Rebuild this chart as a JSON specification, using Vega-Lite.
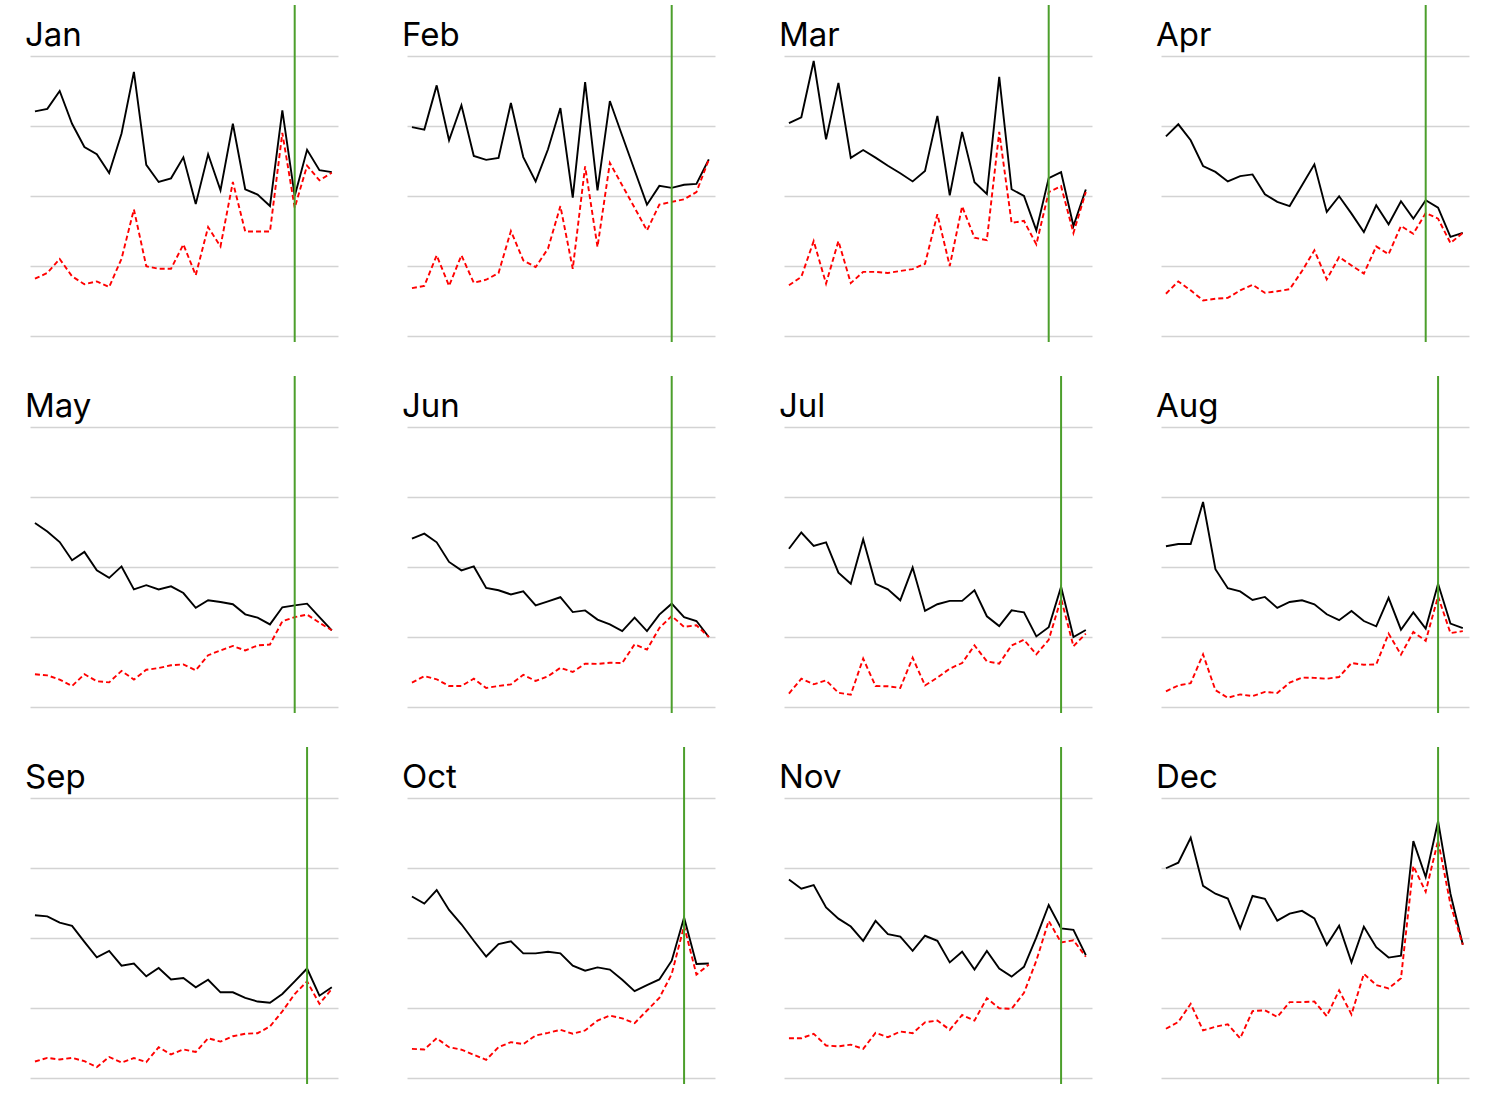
{
  "$schema": "https://vega.github.io/schema/vega-lite/v6.json",
  "background": "white",
  "padding": {"left": 25, "top": 4, "right": 5, "bottom": 5},
  "columns": 4,
  "spacing": {"row": 34, "column": 69},
  "bounds": "flush",
  "datasets": {
    "series": [
      {"m":"Jan","yr":2000,"b":80.2,"r":20.5},{"m":"Jan","yr":2001,"b":81.1,"r":22.5},{"m":"Jan","yr":2002,"b":87.5,"r":27.5},{"m":"Jan","yr":2003,"b":75.8,"r":21.3},{"m":"Jan","yr":2004,"b":67.5,"r":18.5},
      {"m":"Jan","yr":2005,"b":64.9,"r":19.5},{"m":"Jan","yr":2006,"b":58.2,"r":17.5},{"m":"Jan","yr":2007,"b":72.3,"r":27.6},{"m":"Jan","yr":2008,"b":94.3,"r":45.2},{"m":"Jan","yr":2009,"b":61.1,"r":24.9},
      {"m":"Jan","yr":2010,"b":55.0,"r":24.0},{"m":"Jan","yr":2011,"b":56.3,"r":24.0},{"m":"Jan","yr":2012,"b":63.8,"r":32.7},{"m":"Jan","yr":2013,"b":47.1,"r":21.7},{"m":"Jan","yr":2014,"b":64.9,"r":38.9},
      {"m":"Jan","yr":2015,"b":52.0,"r":32.0},{"m":"Jan","yr":2016,"b":75.8,"r":55.0},{"m":"Jan","yr":2017,"b":52.4,"r":37.3},{"m":"Jan","yr":2018,"b":50.5,"r":37.3},{"m":"Jan","yr":2019,"b":46.4,"r":37.3},
      {"m":"Jan","yr":2020,"b":80.6,"r":72.5},{"m":"Jan","yr":2021,"b":50.0,"r":45.8},{"m":"Jan","yr":2022,"b":66.5,"r":60.8},{"m":"Jan","yr":2023,"b":59.2,"r":55.6},{"m":"Jan","yr":2024,"b":58.5,"r":58.3},

      {"m":"Feb","yr":2000,"b":74.6,"r":17.1},{"m":"Feb","yr":2001,"b":73.7,"r":17.9},{"m":"Feb","yr":2002,"b":89.5,"r":28.8},{"m":"Feb","yr":2003,"b":69.9,"r":17.9},{"m":"Feb","yr":2004,"b":82.4,"r":28.8},
      {"m":"Feb","yr":2005,"b":64.3,"r":19.0},{"m":"Feb","yr":2006,"b":62.9,"r":20.1},{"m":"Feb","yr":2007,"b":63.6,"r":22.5},{"m":"Feb","yr":2008,"b":83.2,"r":37.5},{"m":"Feb","yr":2009,"b":63.9,"r":27.0},
      {"m":"Feb","yr":2010,"b":55.2,"r":24.6},{"m":"Feb","yr":2011,"b":66.7,"r":31.2},{"m":"Feb","yr":2012,"b":81.4,"r":46.4},{"m":"Feb","yr":2013,"b":49.4,"r":24.0},{"m":"Feb","yr":2014,"b":90.7,"r":60.6},
      {"m":"Feb","yr":2015,"b":52.0,"r":31.8},{"m":"Feb","yr":2016,"b":83.9,"r":61.8},{"m":"Feb","yr":2017,"b":71.5,"r":53.8},{"m":"Feb","yr":2018,"b":59.2,"r":45.8},{"m":"Feb","yr":2019,"b":46.9,"r":37.7},
      {"m":"Feb","yr":2020,"b":53.6,"r":46.9},{"m":"Feb","yr":2021,"b":52.9,"r":47.9},{"m":"Feb","yr":2022,"b":54.0,"r":48.8},{"m":"Feb","yr":2023,"b":54.3,"r":51.4},{"m":"Feb","yr":2024,"b":63.1,"r":63.0},

      {"m":"Mar","yr":2000,"b":76.0,"r":18.1},{"m":"Mar","yr":2001,"b":78.1,"r":21.1},{"m":"Mar","yr":2002,"b":98.2,"r":33.9},{"m":"Mar","yr":2003,"b":70.2,"r":18.7},{"m":"Mar","yr":2004,"b":90.4,"r":33.9},
      {"m":"Mar","yr":2005,"b":63.6,"r":18.9},{"m":"Mar","yr":2006,"b":66.4,"r":22.9},{"m":"Mar","yr":2007,"b":63.7,"r":22.9},{"m":"Mar","yr":2008,"b":60.8,"r":22.5},{"m":"Mar","yr":2009,"b":58.1,"r":23.2},
      {"m":"Mar","yr":2010,"b":55.2,"r":23.9},{"m":"Mar","yr":2011,"b":58.9,"r":25.8},{"m":"Mar","yr":2012,"b":78.6,"r":43.5},{"m":"Mar","yr":2013,"b":50.2,"r":25.0},{"m":"Mar","yr":2014,"b":72.9,"r":46.3},
      {"m":"Mar","yr":2015,"b":54.9,"r":35.1},{"m":"Mar","yr":2016,"b":50.7,"r":34.2},{"m":"Mar","yr":2017,"b":92.5,"r":72.9},{"m":"Mar","yr":2018,"b":52.4,"r":40.4},{"m":"Mar","yr":2019,"b":50.0,"r":41.1},
      {"m":"Mar","yr":2020,"b":37.7,"r":32.7},{"m":"Mar","yr":2021,"b":56.4,"r":51.4},{"m":"Mar","yr":2022,"b":58.5,"r":53.5},{"m":"Mar","yr":2023,"b":39.3,"r":36.8},{"m":"Mar","yr":2024,"b":52.3,"r":51.4},

      {"m":"Apr","yr":2000,"b":71.3,"r":15.1},{"m":"Apr","yr":2001,"b":75.6,"r":19.5},{"m":"Apr","yr":2002,"b":69.9,"r":16.3},{"m":"Apr","yr":2003,"b":60.7,"r":12.7},{"m":"Apr","yr":2004,"b":58.6,"r":13.3},
      {"m":"Apr","yr":2005,"b":55.2,"r":13.6},{"m":"Apr","yr":2006,"b":57.1,"r":16.3},{"m":"Apr","yr":2007,"b":57.7,"r":18.3},{"m":"Apr","yr":2008,"b":50.6,"r":15.4},{"m":"Apr","yr":2009,"b":47.9,"r":16.0},
      {"m":"Apr","yr":2010,"b":46.4,"r":16.7},{"m":"Apr","yr":2011,"b":53.8,"r":23.2},{"m":"Apr","yr":2012,"b":61.3,"r":30.6},{"m":"Apr","yr":2013,"b":44.3,"r":20.2},{"m":"Apr","yr":2014,"b":49.9,"r":28.2},
      {"m":"Apr","yr":2015,"b":43.7,"r":25.2},{"m":"Apr","yr":2016,"b":37.1,"r":22.3},{"m":"Apr","yr":2017,"b":46.7,"r":32.0},{"m":"Apr","yr":2018,"b":39.9,"r":29.2},{"m":"Apr","yr":2019,"b":48.1,"r":39.3},
      {"m":"Apr","yr":2020,"b":41.9,"r":36.5},{"m":"Apr","yr":2021,"b":48.5,"r":43.9},{"m":"Apr","yr":2022,"b":45.8,"r":41.9},{"m":"Apr","yr":2023,"b":35.4,"r":33.2},{"m":"Apr","yr":2024,"b":36.8,"r":36.8},

      {"m":"May","yr":2000,"b":65.7,"r":11.7},{"m":"May","yr":2001,"b":62.7,"r":11.3},{"m":"May","yr":2002,"b":58.9,"r":9.8},{"m":"May","yr":2003,"b":52.4,"r":7.5},{"m":"May","yr":2004,"b":55.4,"r":11.7},
      {"m":"May","yr":2005,"b":48.8,"r":9.2},{"m":"May","yr":2006,"b":46.1,"r":8.8},{"m":"May","yr":2007,"b":50.2,"r":12.9},{"m":"May","yr":2008,"b":42.0,"r":9.8},{"m":"May","yr":2009,"b":43.5,"r":13.3},
      {"m":"May","yr":2010,"b":42.0,"r":13.9},{"m":"May","yr":2011,"b":43.1,"r":14.9},{"m":"May","yr":2012,"b":40.7,"r":15.2},{"m":"May","yr":2013,"b":35.4,"r":13.1},{"m":"May","yr":2014,"b":38.1,"r":18.5},
      {"m":"May","yr":2015,"b":37.5,"r":20.2},{"m":"May","yr":2016,"b":36.7,"r":21.8},{"m":"May","yr":2017,"b":33.1,"r":20.2},{"m":"May","yr":2018,"b":31.9,"r":22.0},{"m":"May","yr":2019,"b":29.5,"r":22.3},
      {"m":"May","yr":2020,"b":35.6,"r":30.6},{"m":"May","yr":2021,"b":36.3,"r":32.1},{"m":"May","yr":2022,"b":36.9,"r":33.0},{"m":"May","yr":2023,"b":32.1,"r":30.1},{"m":"May","yr":2024,"b":27.4,"r":27.4},

      {"m":"Jun","yr":2000,"b":60.1,"r":8.7},{"m":"Jun","yr":2001,"b":61.9,"r":11.0},{"m":"Jun","yr":2002,"b":58.8,"r":9.9},{"m":"Jun","yr":2003,"b":51.8,"r":7.5},{"m":"Jun","yr":2004,"b":48.8,"r":7.5},
      {"m":"Jun","yr":2005,"b":50.2,"r":10.1},{"m":"Jun","yr":2006,"b":42.5,"r":6.8},{"m":"Jun","yr":2007,"b":41.7,"r":7.5},{"m":"Jun","yr":2008,"b":40.2,"r":8.1},{"m":"Jun","yr":2009,"b":41.3,"r":11.5},
      {"m":"Jun","yr":2010,"b":36.3,"r":9.3},{"m":"Jun","yr":2011,"b":37.7,"r":11.0},{"m":"Jun","yr":2012,"b":39.2,"r":14.0},{"m":"Jun","yr":2013,"b":33.9,"r":12.5},{"m":"Jun","yr":2014,"b":34.5,"r":15.5},
      {"m":"Jun","yr":2015,"b":31.2,"r":15.4},{"m":"Jun","yr":2016,"b":29.5,"r":15.8},{"m":"Jun","yr":2017,"b":27.1,"r":15.7},{"m":"Jun","yr":2018,"b":31.9,"r":22.4},{"m":"Jun","yr":2019,"b":27.1,"r":20.5},
      {"m":"Jun","yr":2020,"b":33.0,"r":28.2},{"m":"Jun","yr":2021,"b":36.9,"r":32.5},{"m":"Jun","yr":2022,"b":32.1,"r":28.6},{"m":"Jun","yr":2023,"b":30.7,"r":29.2},{"m":"Jun","yr":2024,"b":25.0,"r":25.0},

      {"m":"Jul","yr":2000,"b":56.5,"r":4.8},{"m":"Jul","yr":2001,"b":62.3,"r":10.1},{"m":"Jul","yr":2002,"b":57.5,"r":8.1},{"m":"Jul","yr":2003,"b":58.8,"r":9.5},{"m":"Jul","yr":2004,"b":48.0,"r":5.1},
      {"m":"Jul","yr":2005,"b":44.0,"r":4.4},{"m":"Jul","yr":2006,"b":59.9,"r":17.3},{"m":"Jul","yr":2007,"b":44.0,"r":7.5},{"m":"Jul","yr":2008,"b":42.0,"r":7.4},{"m":"Jul","yr":2009,"b":38.1,"r":6.8},
      {"m":"Jul","yr":2010,"b":49.8,"r":17.6},{"m":"Jul","yr":2011,"b":34.3,"r":7.7},{"m":"Jul","yr":2012,"b":36.7,"r":10.5},{"m":"Jul","yr":2013,"b":37.9,"r":13.7},{"m":"Jul","yr":2014,"b":37.9,"r":15.7},
      {"m":"Jul","yr":2015,"b":41.7,"r":22.0},{"m":"Jul","yr":2016,"b":32.4,"r":16.3},{"m":"Jul","yr":2017,"b":28.9,"r":15.5},{"m":"Jul","yr":2018,"b":34.5,"r":22.0},{"m":"Jul","yr":2019,"b":33.8,"r":24.0},
      {"m":"Jul","yr":2020,"b":25.2,"r":18.8},{"m":"Jul","yr":2021,"b":28.5,"r":24.0},{"m":"Jul","yr":2022,"b":42.9,"r":38.7},{"m":"Jul","yr":2023,"b":25.0,"r":21.7},{"m":"Jul","yr":2024,"b":27.5,"r":26.2},

      {"m":"Aug","yr":2000,"b":57.4,"r":5.6},{"m":"Aug","yr":2001,"b":58.2,"r":7.7},{"m":"Aug","yr":2002,"b":58.2,"r":8.5},{"m":"Aug","yr":2003,"b":73.2,"r":18.8},{"m":"Aug","yr":2004,"b":49.2,"r":6.0},
      {"m":"Aug","yr":2005,"b":42.4,"r":3.3},{"m":"Aug","yr":2006,"b":41.3,"r":4.5},{"m":"Aug","yr":2007,"b":38.2,"r":3.9},{"m":"Aug","yr":2008,"b":39.3,"r":5.4},{"m":"Aug","yr":2009,"b":35.4,"r":5.0},
      {"m":"Aug","yr":2010,"b":37.5,"r":8.7},{"m":"Aug","yr":2011,"b":38.1,"r":10.5},{"m":"Aug","yr":2012,"b":36.7,"r":10.4},{"m":"Aug","yr":2013,"b":33.1,"r":10.1},{"m":"Aug","yr":2014,"b":31.0,"r":10.7},
      {"m":"Aug","yr":2015,"b":34.3,"r":15.7},{"m":"Aug","yr":2016,"b":30.7,"r":15.1},{"m":"Aug","yr":2017,"b":28.8,"r":15.2},{"m":"Aug","yr":2018,"b":39.0,"r":26.2},{"m":"Aug","yr":2019,"b":27.6,"r":18.7},
      {"m":"Aug","yr":2020,"b":33.8,"r":26.8},{"m":"Aug","yr":2021,"b":28.0,"r":23.6},{"m":"Aug","yr":2022,"b":44.0,"r":39.5},{"m":"Aug","yr":2023,"b":29.8,"r":26.4},{"m":"Aug","yr":2024,"b":28.2,"r":27.1},

      {"m":"Sep","yr":2000,"b":58.1,"r":5.9},{"m":"Sep","yr":2001,"b":57.7,"r":7.2},{"m":"Sep","yr":2002,"b":55.5,"r":6.6},{"m":"Sep","yr":2003,"b":54.3,"r":7.2},{"m":"Sep","yr":2004,"b":48.6,"r":6.0},
      {"m":"Sep","yr":2005,"b":43.1,"r":3.9},{"m":"Sep","yr":2006,"b":45.4,"r":7.5},{"m":"Sep","yr":2007,"b":40.1,"r":5.5},{"m":"Sep","yr":2008,"b":40.9,"r":7.1},{"m":"Sep","yr":2009,"b":36.3,"r":5.7},
      {"m":"Sep","yr":2010,"b":39.3,"r":11.0},{"m":"Sep","yr":2011,"b":35.2,"r":8.4},{"m":"Sep","yr":2012,"b":35.7,"r":10.2},{"m":"Sep","yr":2013,"b":32.4,"r":9.3},{"m":"Sep","yr":2014,"b":35.1,"r":14.2},
      {"m":"Sep","yr":2015,"b":30.6,"r":13.0},{"m":"Sep","yr":2016,"b":30.6,"r":14.9},{"m":"Sep","yr":2017,"b":28.6,"r":15.8},{"m":"Sep","yr":2018,"b":27.3,"r":16.0},{"m":"Sep","yr":2019,"b":26.9,"r":18.4},
      {"m":"Sep","yr":2020,"b":30.0,"r":23.8},{"m":"Sep","yr":2021,"b":34.5,"r":30.0},{"m":"Sep","yr":2022,"b":39.1,"r":34.5},{"m":"Sep","yr":2023,"b":29.4,"r":26.5},{"m":"Sep","yr":2024,"b":32.4,"r":31.8},

      {"m":"Oct","yr":2000,"b":64.8,"r":10.4},{"m":"Oct","yr":2001,"b":62.3,"r":10.2},{"m":"Oct","yr":2002,"b":67.1,"r":14.2},{"m":"Oct","yr":2003,"b":60.0,"r":11.0},{"m":"Oct","yr":2004,"b":54.9,"r":10.1},
      {"m":"Oct","yr":2005,"b":49.0,"r":8.3},{"m":"Oct","yr":2006,"b":43.4,"r":6.5},{"m":"Oct","yr":2007,"b":47.8,"r":11.0},{"m":"Oct","yr":2008,"b":48.8,"r":12.8},{"m":"Oct","yr":2009,"b":44.5,"r":12.1},
      {"m":"Oct","yr":2010,"b":44.5,"r":15.2},{"m":"Oct","yr":2011,"b":45.1,"r":16.1},{"m":"Oct","yr":2012,"b":44.5,"r":17.2},{"m":"Oct","yr":2013,"b":40.1,"r":15.8},{"m":"Oct","yr":2014,"b":38.3,"r":17.0},
      {"m":"Oct","yr":2015,"b":39.5,"r":20.5},{"m":"Oct","yr":2016,"b":38.7,"r":22.3},{"m":"Oct","yr":2017,"b":35.1,"r":21.3},{"m":"Oct","yr":2018,"b":31.0,"r":19.6},{"m":"Oct","yr":2019,"b":33.2,"r":24.1},
      {"m":"Oct","yr":2020,"b":35.2,"r":28.6},{"m":"Oct","yr":2021,"b":41.9,"r":37.1},{"m":"Oct","yr":2022,"b":57.3,"r":54.3},{"m":"Oct","yr":2023,"b":40.7,"r":36.9},{"m":"Oct","yr":2024,"b":40.9,"r":40.5},

      {"m":"Nov","yr":2000,"b":70.9,"r":14.2},{"m":"Nov","yr":2001,"b":67.6,"r":14.2},{"m":"Nov","yr":2002,"b":68.9,"r":15.8},{"m":"Nov","yr":2003,"b":60.9,"r":11.6},{"m":"Nov","yr":2004,"b":56.9,"r":11.3},
      {"m":"Nov","yr":2005,"b":54.1,"r":11.9},{"m":"Nov","yr":2006,"b":49.0,"r":10.4},{"m":"Nov","yr":2007,"b":56.1,"r":16.1},{"m":"Nov","yr":2008,"b":51.4,"r":14.6},{"m":"Nov","yr":2009,"b":50.5,"r":16.6},
      {"m":"Nov","yr":2010,"b":45.4,"r":16.0},{"m":"Nov","yr":2011,"b":50.8,"r":19.9},{"m":"Nov","yr":2012,"b":49.0,"r":20.5},{"m":"Nov","yr":2013,"b":41.3,"r":17.2},{"m":"Nov","yr":2014,"b":45.1,"r":22.5},
      {"m":"Nov","yr":2015,"b":38.7,"r":20.5},{"m":"Nov","yr":2016,"b":45.4,"r":28.5},{"m":"Nov","yr":2017,"b":39.1,"r":24.9},{"m":"Nov","yr":2018,"b":36.2,"r":24.7},{"m":"Nov","yr":2019,"b":39.7,"r":30.4},
      {"m":"Nov","yr":2020,"b":50.2,"r":41.9},{"m":"Nov","yr":2021,"b":61.8,"r":56.1},{"m":"Nov","yr":2022,"b":53.4,"r":48.4},{"m":"Nov","yr":2023,"b":52.9,"r":49.2},{"m":"Nov","yr":2024,"b":43.9,"r":43.3},

      {"m":"Dec","yr":2000,"b":74.9,"r":17.6},{"m":"Dec","yr":2001,"b":76.9,"r":20.0},{"m":"Dec","yr":2002,"b":85.8,"r":26.5},{"m":"Dec","yr":2003,"b":68.6,"r":17.0},{"m":"Dec","yr":2004,"b":65.8,"r":18.3},
      {"m":"Dec","yr":2005,"b":64.1,"r":19.2},{"m":"Dec","yr":2006,"b":53.4,"r":14.2},{"m":"Dec","yr":2007,"b":65.0,"r":23.9},{"m":"Dec","yr":2008,"b":64.0,"r":24.2},{"m":"Dec","yr":2009,"b":56.2,"r":21.8},
      {"m":"Dec","yr":2010,"b":58.7,"r":27.1},{"m":"Dec","yr":2011,"b":59.7,"r":27.1},{"m":"Dec","yr":2012,"b":57.0,"r":27.3},{"m":"Dec","yr":2013,"b":47.5,"r":22.1},{"m":"Dec","yr":2014,"b":54.4,"r":31.3},
      {"m":"Dec","yr":2015,"b":41.3,"r":22.7},{"m":"Dec","yr":2016,"b":54.0,"r":37.2},{"m":"Dec","yr":2017,"b":46.7,"r":33.2},{"m":"Dec","yr":2018,"b":43.0,"r":32.0},{"m":"Dec","yr":2019,"b":43.7,"r":35.6},
      {"m":"Dec","yr":2020,"b":84.6,"r":75.7},{"m":"Dec","yr":2021,"b":71.8,"r":66.5},{"m":"Dec","yr":2022,"b":91.7,"r":84.8},{"m":"Dec","yr":2023,"b":65.8,"r":62.0},{"m":"Dec","yr":2024,"b":47.6,"r":47.6}
    ],
    "events": [
      {"m":"Jan","yr":2021},{"m":"Feb","yr":2021},{"m":"Mar","yr":2021},{"m":"Apr","yr":2021},
      {"m":"May","yr":2021},{"m":"Jun","yr":2021},{"m":"Jul","yr":2022},{"m":"Aug","yr":2022},
      {"m":"Sep","yr":2022},{"m":"Oct","yr":2022},{"m":"Nov","yr":2022},{"m":"Dec","yr":2022}
    ]
  },
  "concat": [
    {"title": "Jan", "width": 308, "height": 337, "layer": [
      {"data": {"name": "series"}, "transform": [{"filter": "datum.m == 'Jan'"}], "mark": "line",
       "encoding": {"x": {"field": "yr", "type": "quantitative", "scale": {"domain": [1999.6, 2024.5], "nice": false, "zero": false}, "axis": null},
                    "y": {"field": "b", "type": "quantitative", "scale": {"domain": [-2.14, 118.2], "nice": false, "zero": false}, "axis": {"values": [0, 25, 50, 75, 100]}}}},
      {"data": {"name": "series"}, "transform": [{"filter": "datum.m == 'Jan'"}], "mark": {"type": "line", "style": "dash"},
       "encoding": {"x": {"field": "yr", "type": "quantitative"}, "y": {"field": "r", "type": "quantitative"}}},
      {"data": {"name": "events"}, "transform": [{"filter": "datum.m == 'Jan'"}], "mark": {"type": "rule", "style": "event"},
       "encoding": {"x": {"field": "yr", "type": "quantitative"}}}
    ]},
    {"title": "Feb", "width": 308, "height": 337, "layer": [
      {"data": {"name": "series"}, "transform": [{"filter": "datum.m == 'Feb'"}], "mark": "line",
       "encoding": {"x": {"field": "yr", "type": "quantitative", "scale": {"domain": [1999.6, 2024.5], "nice": false, "zero": false}, "axis": null},
                    "y": {"field": "b", "type": "quantitative", "scale": {"domain": [-2.14, 118.2], "nice": false, "zero": false}, "axis": {"values": [0, 25, 50, 75, 100]}}}},
      {"data": {"name": "series"}, "transform": [{"filter": "datum.m == 'Feb'"}], "mark": {"type": "line", "style": "dash"},
       "encoding": {"x": {"field": "yr", "type": "quantitative"}, "y": {"field": "r", "type": "quantitative"}}},
      {"data": {"name": "events"}, "transform": [{"filter": "datum.m == 'Feb'"}], "mark": {"type": "rule", "style": "event"},
       "encoding": {"x": {"field": "yr", "type": "quantitative"}}}
    ]},
    {"title": "Mar", "width": 308, "height": 337, "layer": [
      {"data": {"name": "series"}, "transform": [{"filter": "datum.m == 'Mar'"}], "mark": "line",
       "encoding": {"x": {"field": "yr", "type": "quantitative", "scale": {"domain": [1999.6, 2024.5], "nice": false, "zero": false}, "axis": null},
                    "y": {"field": "b", "type": "quantitative", "scale": {"domain": [-2.14, 118.2], "nice": false, "zero": false}, "axis": {"values": [0, 25, 50, 75, 100]}}}},
      {"data": {"name": "series"}, "transform": [{"filter": "datum.m == 'Mar'"}], "mark": {"type": "line", "style": "dash"},
       "encoding": {"x": {"field": "yr", "type": "quantitative"}, "y": {"field": "r", "type": "quantitative"}}},
      {"data": {"name": "events"}, "transform": [{"filter": "datum.m == 'Mar'"}], "mark": {"type": "rule", "style": "event"},
       "encoding": {"x": {"field": "yr", "type": "quantitative"}}}
    ]},
    {"title": "Apr", "width": 308, "height": 337, "layer": [
      {"data": {"name": "series"}, "transform": [{"filter": "datum.m == 'Apr'"}], "mark": "line",
       "encoding": {"x": {"field": "yr", "type": "quantitative", "scale": {"domain": [1999.6, 2024.5], "nice": false, "zero": false}, "axis": null},
                    "y": {"field": "b", "type": "quantitative", "scale": {"domain": [-2.14, 118.2], "nice": false, "zero": false}, "axis": {"values": [0, 25, 50, 75, 100]}}}},
      {"data": {"name": "series"}, "transform": [{"filter": "datum.m == 'Apr'"}], "mark": {"type": "line", "style": "dash"},
       "encoding": {"x": {"field": "yr", "type": "quantitative"}, "y": {"field": "r", "type": "quantitative"}}},
      {"data": {"name": "events"}, "transform": [{"filter": "datum.m == 'Apr'"}], "mark": {"type": "rule", "style": "event"},
       "encoding": {"x": {"field": "yr", "type": "quantitative"}}}
    ]},
    {"title": "May", "width": 308, "height": 337, "layer": [
      {"data": {"name": "series"}, "transform": [{"filter": "datum.m == 'May'"}], "mark": "line",
       "encoding": {"x": {"field": "yr", "type": "quantitative", "scale": {"domain": [1999.6, 2024.5], "nice": false, "zero": false}, "axis": null},
                    "y": {"field": "b", "type": "quantitative", "scale": {"domain": [-2.14, 118.2], "nice": false, "zero": false}, "axis": {"values": [0, 25, 50, 75, 100]}}}},
      {"data": {"name": "series"}, "transform": [{"filter": "datum.m == 'May'"}], "mark": {"type": "line", "style": "dash"},
       "encoding": {"x": {"field": "yr", "type": "quantitative"}, "y": {"field": "r", "type": "quantitative"}}},
      {"data": {"name": "events"}, "transform": [{"filter": "datum.m == 'May'"}], "mark": {"type": "rule", "style": "event"},
       "encoding": {"x": {"field": "yr", "type": "quantitative"}}}
    ]},
    {"title": "Jun", "width": 308, "height": 337, "layer": [
      {"data": {"name": "series"}, "transform": [{"filter": "datum.m == 'Jun'"}], "mark": "line",
       "encoding": {"x": {"field": "yr", "type": "quantitative", "scale": {"domain": [1999.6, 2024.5], "nice": false, "zero": false}, "axis": null},
                    "y": {"field": "b", "type": "quantitative", "scale": {"domain": [-2.14, 118.2], "nice": false, "zero": false}, "axis": {"values": [0, 25, 50, 75, 100]}}}},
      {"data": {"name": "series"}, "transform": [{"filter": "datum.m == 'Jun'"}], "mark": {"type": "line", "style": "dash"},
       "encoding": {"x": {"field": "yr", "type": "quantitative"}, "y": {"field": "r", "type": "quantitative"}}},
      {"data": {"name": "events"}, "transform": [{"filter": "datum.m == 'Jun'"}], "mark": {"type": "rule", "style": "event"},
       "encoding": {"x": {"field": "yr", "type": "quantitative"}}}
    ]},
    {"title": "Jul", "width": 308, "height": 337, "layer": [
      {"data": {"name": "series"}, "transform": [{"filter": "datum.m == 'Jul'"}], "mark": "line",
       "encoding": {"x": {"field": "yr", "type": "quantitative", "scale": {"domain": [1999.6, 2024.5], "nice": false, "zero": false}, "axis": null},
                    "y": {"field": "b", "type": "quantitative", "scale": {"domain": [-2.14, 118.2], "nice": false, "zero": false}, "axis": {"values": [0, 25, 50, 75, 100]}}}},
      {"data": {"name": "series"}, "transform": [{"filter": "datum.m == 'Jul'"}], "mark": {"type": "line", "style": "dash"},
       "encoding": {"x": {"field": "yr", "type": "quantitative"}, "y": {"field": "r", "type": "quantitative"}}},
      {"data": {"name": "events"}, "transform": [{"filter": "datum.m == 'Jul'"}], "mark": {"type": "rule", "style": "event"},
       "encoding": {"x": {"field": "yr", "type": "quantitative"}}}
    ]},
    {"title": "Aug", "width": 308, "height": 337, "layer": [
      {"data": {"name": "series"}, "transform": [{"filter": "datum.m == 'Aug'"}], "mark": "line",
       "encoding": {"x": {"field": "yr", "type": "quantitative", "scale": {"domain": [1999.6, 2024.5], "nice": false, "zero": false}, "axis": null},
                    "y": {"field": "b", "type": "quantitative", "scale": {"domain": [-2.14, 118.2], "nice": false, "zero": false}, "axis": {"values": [0, 25, 50, 75, 100]}}}},
      {"data": {"name": "series"}, "transform": [{"filter": "datum.m == 'Aug'"}], "mark": {"type": "line", "style": "dash"},
       "encoding": {"x": {"field": "yr", "type": "quantitative"}, "y": {"field": "r", "type": "quantitative"}}},
      {"data": {"name": "events"}, "transform": [{"filter": "datum.m == 'Aug'"}], "mark": {"type": "rule", "style": "event"},
       "encoding": {"x": {"field": "yr", "type": "quantitative"}}}
    ]},
    {"title": "Sep", "width": 308, "height": 337, "layer": [
      {"data": {"name": "series"}, "transform": [{"filter": "datum.m == 'Sep'"}], "mark": "line",
       "encoding": {"x": {"field": "yr", "type": "quantitative", "scale": {"domain": [1999.6, 2024.5], "nice": false, "zero": false}, "axis": null},
                    "y": {"field": "b", "type": "quantitative", "scale": {"domain": [-2.14, 118.2], "nice": false, "zero": false}, "axis": {"values": [0, 25, 50, 75, 100]}}}},
      {"data": {"name": "series"}, "transform": [{"filter": "datum.m == 'Sep'"}], "mark": {"type": "line", "style": "dash"},
       "encoding": {"x": {"field": "yr", "type": "quantitative"}, "y": {"field": "r", "type": "quantitative"}}},
      {"data": {"name": "events"}, "transform": [{"filter": "datum.m == 'Sep'"}], "mark": {"type": "rule", "style": "event"},
       "encoding": {"x": {"field": "yr", "type": "quantitative"}}}
    ]},
    {"title": "Oct", "width": 308, "height": 337, "layer": [
      {"data": {"name": "series"}, "transform": [{"filter": "datum.m == 'Oct'"}], "mark": "line",
       "encoding": {"x": {"field": "yr", "type": "quantitative", "scale": {"domain": [1999.6, 2024.5], "nice": false, "zero": false}, "axis": null},
                    "y": {"field": "b", "type": "quantitative", "scale": {"domain": [-2.14, 118.2], "nice": false, "zero": false}, "axis": {"values": [0, 25, 50, 75, 100]}}}},
      {"data": {"name": "series"}, "transform": [{"filter": "datum.m == 'Oct'"}], "mark": {"type": "line", "style": "dash"},
       "encoding": {"x": {"field": "yr", "type": "quantitative"}, "y": {"field": "r", "type": "quantitative"}}},
      {"data": {"name": "events"}, "transform": [{"filter": "datum.m == 'Oct'"}], "mark": {"type": "rule", "style": "event"},
       "encoding": {"x": {"field": "yr", "type": "quantitative"}}}
    ]},
    {"title": "Nov", "width": 308, "height": 337, "layer": [
      {"data": {"name": "series"}, "transform": [{"filter": "datum.m == 'Nov'"}], "mark": "line",
       "encoding": {"x": {"field": "yr", "type": "quantitative", "scale": {"domain": [1999.6, 2024.5], "nice": false, "zero": false}, "axis": null},
                    "y": {"field": "b", "type": "quantitative", "scale": {"domain": [-2.14, 118.2], "nice": false, "zero": false}, "axis": {"values": [0, 25, 50, 75, 100]}}}},
      {"data": {"name": "series"}, "transform": [{"filter": "datum.m == 'Nov'"}], "mark": {"type": "line", "style": "dash"},
       "encoding": {"x": {"field": "yr", "type": "quantitative"}, "y": {"field": "r", "type": "quantitative"}}},
      {"data": {"name": "events"}, "transform": [{"filter": "datum.m == 'Nov'"}], "mark": {"type": "rule", "style": "event"},
       "encoding": {"x": {"field": "yr", "type": "quantitative"}}}
    ]},
    {"title": "Dec", "width": 308, "height": 337, "layer": [
      {"data": {"name": "series"}, "transform": [{"filter": "datum.m == 'Dec'"}], "mark": "line",
       "encoding": {"x": {"field": "yr", "type": "quantitative", "scale": {"domain": [1999.6, 2024.5], "nice": false, "zero": false}, "axis": null},
                    "y": {"field": "b", "type": "quantitative", "scale": {"domain": [-2.14, 118.2], "nice": false, "zero": false}, "axis": {"values": [0, 25, 50, 75, 100]}}}},
      {"data": {"name": "series"}, "transform": [{"filter": "datum.m == 'Dec'"}], "mark": {"type": "line", "style": "dash"},
       "encoding": {"x": {"field": "yr", "type": "quantitative"}, "y": {"field": "r", "type": "quantitative"}}},
      {"data": {"name": "events"}, "transform": [{"filter": "datum.m == 'Dec'"}], "mark": {"type": "rule", "style": "event"},
       "encoding": {"x": {"field": "yr", "type": "quantitative"}}}
    ]}
  ],
  "config": {
    "view": {"stroke": null},
    "title": {"anchor": "start", "font": "Inter", "fontSize": 33, "fontWeight": "normal", "color": "black",
              "baseline": "alphabetic", "offset": -49, "dx": -5},
    "axis": {"title": null, "domain": false, "ticks": false, "labels": false,
             "grid": true, "gridColor": "#d3d3d3", "gridWidth": 1.5},
    "line": {"color": "black", "strokeWidth": 1.9, "clip": true},
    "style": {
      "dash": {"color": "#ff0000", "strokeWidth": 1.9, "strokeDash": [5, 3]},
      "event": {"color": "#4c9f2c", "strokeWidth": 2}
    }
  }
}
